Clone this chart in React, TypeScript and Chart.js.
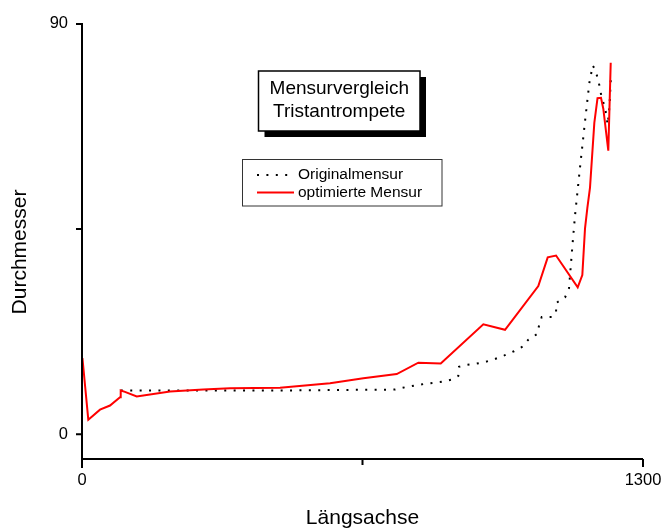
import React, { useEffect, useRef } from "react";
import { Chart, registerables } from "chart.js";

Chart.register(...registerables);

// Original bore (dotted black)
const xOrig = [90, 458.9, 725.4, 748.5, 791, 833.6, 856.8, 872, 873.6, 891.5, 914.7, 936.2, 957, 978.6, 1001, 1019, 1034, 1055, 1059.7, 1065.3, 1088.5, 1098.5, 1099, 1119.3, 1128.5, 1137, 1142.5, 1154, 1165.6, 1175.6, 1183.5, 1188.8, 1196.4, 1204.3, 1212, 1218.2, 1222.4, 1225.9];
const yOrig = [9.6, 9.6, 9.8, 10.3, 11.0, 11.5, 12.0, 12.8, 14.8, 15.2, 15.5, 15.9, 16.5, 17.3, 18.2, 19.1, 20.7, 22.0, 24.1, 25.7, 25.7, 26.7, 28.8, 30.0, 32.0, 42.0, 48.0, 58.5, 68.6, 77.0, 80.9, 80.0, 77.7, 73.8, 71.7, 67.9, 72.0, 78.9];

// Optimised bore (red)
const xOpt = [1, 14.6, 41.7, 64.9, 88.1, 89.7, 99.6, 126.8, 204, 281, 343, 458.9, 574.7, 652, 729.3, 779.4, 831.3, 930, 980.3, 1057.4, 1079.2, 1098.5, 1148.7, 1159.4, 1165.6, 1171, 1177.2, 1187.2, 1194.6, 1202.7, 1208, 1219.6, 1225.2];
const yOpt = [16.7, 3.2, 5.4, 6.3, 8.1, 9.6, 9.3, 8.3, 9.35, 9.8, 10.1, 10.2, 11.2, 12.3, 13.2, 15.7, 15.5, 24.1, 22.9, 32.5, 38.8, 39.2, 32.2, 34.9, 45.1, 49.6, 54.1, 68.3, 73.7, 73.8, 71.4, 62.2, 81.5];

const xTicks = [0, 650, 1300];
const yTicks = [0, 45, 90];
const xLabels = ["0", "", "1300"];
const yLabels = ["0", "", "90"];

const seriesNames = ["Originalmensur", "optimierte Mensur"];
const titleLines = ["Mensurvergleich", "Tristantrompete"];
const xTitle = "Längsachse";
const yTitle = "Durchmesser";

const FONT = "'Liberation Sans', Arial, Helvetica, sans-serif";

const decorPlugin = {
  id: "decor",
  afterDraw(chart: any) {
    const ctx = chart.ctx as CanvasRenderingContext2D;
    const xs = chart.scales.x;
    const ys = chart.scales.y;
    const area = chart.chartArea;
    ctx.save();
    // axes
    ctx.strokeStyle = "#000";
    ctx.lineWidth = 2;
    ctx.lineCap = "butt";
    const left = xs.getPixelForValue(0);
    const bottom = area.bottom;
    ctx.beginPath();
    ctx.moveTo(left, ys.getPixelForValue(90) - 1);
    ctx.lineTo(left, bottom + 9);
    ctx.moveTo(left - 1, bottom);
    ctx.lineTo(xs.getPixelForValue(1300), bottom);
    // y ticks
    yTicks.forEach((v) => {
      const p = ys.getPixelForValue(v);
      ctx.moveTo(left - 6, p);
      ctx.lineTo(left, p);
    });
    // x ticks
    const mid = xs.getPixelForValue(650);
    ctx.moveTo(mid, bottom);
    ctx.lineTo(mid, bottom + 6);
    const r = xs.getPixelForValue(1300);
    ctx.moveTo(r, bottom);
    ctx.lineTo(r, bottom + 8);
    ctx.stroke();

    // x tick labels
    ctx.fillStyle = "#000";
    ctx.font = `16.5px ${FONT}`;
    ctx.textAlign = "center";
    ctx.textBaseline = "middle";
    xTicks.forEach((v, i) => {
      if (xLabels[i]) ctx.fillText(xLabels[i], xs.getPixelForValue(v), 480);
    });

    // axis titles
    ctx.font = `21px ${FONT}`;
    ctx.fillText(xTitle, (area.left + area.right) / 2, 518);
    ctx.save();
    ctx.translate(20, 252);
    ctx.rotate(-Math.PI / 2);
    ctx.fillText(yTitle, 0, 0);
    ctx.restore();

    // title box with shadow
    const bx = 258.5, by = 71, bw = 161.5, bh = 60;
    ctx.fillStyle = "#000";
    ctx.fillRect(bx + 6, by + 6, bw, bh);
    ctx.fillStyle = "#fff";
    ctx.fillRect(bx, by, bw, bh);
    ctx.strokeStyle = "#000";
    ctx.lineWidth = 1.5;
    ctx.strokeRect(bx, by, bw, bh);
    ctx.fillStyle = "#000";
    ctx.font = `19px ${FONT}`;
    ctx.fillText(titleLines[0], bx + bw / 2, 89);
    ctx.fillText(titleLines[1], bx + bw / 2, 112);

    // legend box
    const lx = 242.5, ly = 159.5, lw = 199.5, lh = 46.5;
    ctx.fillStyle = "#fff";
    ctx.fillRect(lx, ly, lw, lh);
    ctx.strokeStyle = "#333";
    ctx.lineWidth = 1;
    ctx.strokeRect(lx, ly, lw, lh);
    const rows = [175, 192.5];
    chart.data.datasets.forEach((ds: any, i: number) => {
      const y = rows[i];
      ctx.save();
      ctx.strokeStyle = ds.borderColor;
      ctx.lineWidth = 2;
      ctx.setLineDash(ds.borderDash || []);
      ctx.beginPath();
      ctx.moveTo(257, y);
      ctx.lineTo(294, y);
      ctx.stroke();
      ctx.restore();
      ctx.fillStyle = "#000";
      ctx.font = `15.5px ${FONT}`;
      ctx.textAlign = "left";
      ctx.textBaseline = "middle";
      ctx.fillText(ds.label, 298, y);
    });
    ctx.restore();
  },
};

export default function App() {
  const ref = useRef<HTMLCanvasElement | null>(null);
  useEffect(() => {
    if (!ref.current) return;
    const chart = new Chart(ref.current, {
      type: "line",
      data: {
        datasets: [
          {
            label: seriesNames[0],
            data: xOrig.map((x, i) => ({ x, y: yOrig[i] })),
            borderColor: "#000000",
            borderWidth: 2,
            borderDash: [2, 7.4],
            pointRadius: 0,
            fill: false,
            tension: 0,
            order: 1,
          },
          {
            label: seriesNames[1],
            data: xOpt.map((x, i) => ({ x, y: yOpt[i] })),
            borderColor: "#ff0000",
            borderWidth: 2,
            pointRadius: 0,
            fill: false,
            tension: 0,
            order: 0,
          },
        ],
      },
      options: {
        animation: false,
        responsive: false,
        devicePixelRatio: 1,
        layout: { padding: { top: 20, right: 22, left: 0, bottom: 0 } },
        plugins: {
          legend: { display: false },
          tooltip: { enabled: false },
          title: { display: false },
        },
        scales: {
          x: {
            type: "linear",
            min: 0,
            max: 1300,
            grid: { display: false, drawTicks: false },
            border: { display: false },
            afterBuildTicks: (s: any) => {
              s.ticks = xTicks.map((v) => ({ value: v }));
            },
            afterFit: (s: any) => {
              s.height = 71;
              s.paddingLeft = 0;
              s.paddingRight = 0;
            },
            ticks: { display: false },
          },
          y: {
            type: "linear",
            min: -5.43,
            max: 90,
            grid: { display: false, drawTicks: false },
            border: { display: false },
            afterBuildTicks: (s: any) => {
              s.ticks = yTicks.map((v) => ({ value: v }));
            },
            afterFit: (s: any) => {
              s.width = 82;
            },
            ticks: {
              autoSkip: false,
              padding: 14,
              color: "#000",
              font: { family: FONT, size: 16.5 },
              callback: (v: any) => yLabels[yTicks.indexOf(Number(v))] ?? "",
            },
          },
        },
      },
      plugins: [decorPlugin],
    } as any);
    return () => chart.destroy();
  }, []);
  return (
    <div style={{ position: "absolute", left: 0, top: 0, width: 665, height: 530, background: "#fff" }}>
      <canvas ref={ref} width={665} height={530} style={{ display: "block", width: 665, height: 530 }} />
    </div>
  );
}
